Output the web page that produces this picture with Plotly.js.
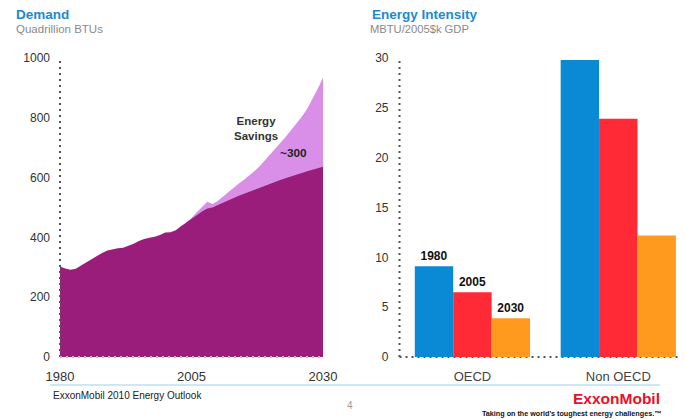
<!DOCTYPE html>
<html>
<head>
<meta charset="utf-8">
<script src="https://cdn.plot.ly/plotly-3.0.1.min.js"></script>
<style>html,body{margin:0;padding:0;background:#fff;}#chart{width:685px;height:419px;}</style>
</head>
<body>
<div id="chart"></div>
<script>
// ---- Demand (Quadrillion BTUs) ----
var demandYears = [1980,1981,1982,1983,1984,1985,1986,1987,1988,1989,1990,1991,1992,1993,1994,1995,1996,1997,1998,1999,2000,2001,2002,2003,2004,2005,2006,2007,2008,2009,2010,2011,2012,2013,2014,2015,2016,2017,2018,2019,2020,2021,2022,2023,2024,2025,2026,2027,2028,2029,2030];
var demandWithSavings = [303,296,292,295,306,317,327,337,348,356,361,364,365,371,379,388,395,399,402,408,416,417,424,437,450,462,474,487,497,500,508,516,525,532,539,546,553,560,567,574,581,587,593,599,605,611,616,621,626,631,636];
var noSavingsYears = [2004,2005,2006,2007,2008,2009,2010,2011,2012,2013,2014,2015,2016,2017,2018,2019,2020,2021,2022,2023,2024,2025,2026,2027,2028,2029,2030];
var demandNoSavings = [450,465,484,503,519,512,522,537,552,566,580,593,607,622,639,658,678,698,718,738,760,781,804,830,862,897,934];
var demandTicks = [1980,2005,2030];

// ---- Energy Intensity (MBTU/2005$k GDP) ----
var regions = ['OECD','Non OECD'];
var seriesNames = ['1980','2005','2030'];
var intensity1980 = [9.1, 29.8];
var intensity2005 = [6.5, 23.9];
var intensity2030 = [3.9, 12.2];
var barColors = ['#0a8ad4','#ff2a35','#ff9a1e'];

var W = 685, H = 419;
function px(x){return x/W;}
function py(y){return 1 - y/H;}

var FONT = 'Liberation Sans, Arial, Helvetica, sans-serif';

var traces = [
  {x: noSavingsYears, y: demandNoSavings, type:'scatter', mode:'lines', fill:'tozeroy',
   fillcolor:'#d98ee8', line:{width:0, color:'#d98ee8'}, xaxis:'x', yaxis:'y', hoverinfo:'skip'},
  {x: demandYears, y: demandWithSavings, type:'scatter', mode:'lines', fill:'tozeroy',
   fillcolor:'#9a1c7b', line:{width:0, color:'#9a1c7b'}, xaxis:'x', yaxis:'y', hoverinfo:'skip'}
];
var intens = [intensity1980, intensity2005, intensity2030];
for (var i=0;i<3;i++){
  traces.push({
    x: regions, y: intens[i], type:'bar', name: seriesNames[i],
    marker:{color: barColors[i]}, xaxis:'x2', yaxis:'y2',
    text: [seriesNames[i], ''], textposition:'outside', cliponaxis:false,
    textfont:{family:FONT, size:12, color:'#111', weight:'bold'}
  });
}

var dotLine = {color:'#555', width:2, dash:'2px,4px'};
var shapes = [
  {type:'line', xref:'x domain', yref:'y domain', x0:0, x1:0, y0:0, y1:1, line:dotLine, layer:'above'},
  {type:'line', xref:'x domain', yref:'y domain', x0:0, x1:1, y0:0, y1:0, line:{color:'#bbb', width:2, dash:'2px,4px'}, layer:'above'},
  {type:'line', xref:'x2 domain', yref:'y2 domain', x0:0, x1:0, y0:0, y1:1, line:dotLine, layer:'above'},
  {type:'line', xref:'x2 domain', yref:'y2 domain', x0:0, x1:1, y0:0, y1:0, line:dotLine, layer:'below'},
  {type:'line', xref:'paper', yref:'paper', x0:px(50), x1:px(660), y0:py(385), y1:py(385), line:{color:'#9fd0ea', width:1.2}}
];

function ann(text, x, y, size, color, xanchor, bold){
  return {text: bold ? '<b>'+text+'</b>' : text, xref:'paper', yref:'paper', x:px(x), y:py(y),
    xanchor: xanchor||'center', yanchor:'middle', showarrow:false,
    font:{family:FONT, size:size, color:color}};
}
var annotations = [
  ann('Demand', 14, 15, 13.5, '#1a8bd0', 'left', true),
  ann('Quadrillion BTUs', 14, 29, 11.5, '#8a8a8a', 'left', false),
  ann('Energy Intensity', 370, 15, 13.5, '#1a8bd0', 'left', true),
  ann('MBTU/2005$k GDP', 368, 29, 11.2, '#8a8a8a', 'left', false),
  ann('Energy<br>Savings', 256, 128.5, 11.5, '#333', 'center', true),
  ann('~300', 293.5, 153, 11.8, '#222', 'center', true),
  ann('ExxonMobil 2010 Energy Outlook', 51, 395, 10, '#222', 'left', false),
  ann('4', 350, 405, 10, '#999', 'center', false),
  ann('ExxonMobil', 616.5, 398, 15.5, '#e8102a', 'center', true),
  ann('Taking on the world\u2019s toughest energy challenges.\u2122', 571.5, 413, 7.2, '#111', 'center', true)
];

var layout = {
  width: W, height: H,
  margin:{l:0,r:0,t:0,b:0,pad:0},
  paper_bgcolor:'#fff', plot_bgcolor:'rgba(0,0,0,0)',
  showlegend:false,
  font:{family:FONT, color:'#333'},
  xaxis:{domain:[px(60), px(323)], range:[1980,2030], tickvals: demandTicks, ticktext: demandTicks.map(String),
    showgrid:false, zeroline:false, showline:false, ticks:'', ticklabelstandoff:10,
    tickfont:{family:FONT, size:13, color:'#333'}, anchor:'y', fixedrange:true},
  yaxis:{domain:[py(357), py(58)], range:[0,1000], tickvals:[0,200,400,600,800,1000],
    showgrid:false, zeroline:false, showline:false, ticks:'', ticklabelstandoff:9,
    tickfont:{family:FONT, size:12, color:'#333'}, anchor:'x', fixedrange:true},
  xaxis2:{domain:[px(399.5), px(681)], range:[-0.5,1.43], type:'category',
    showgrid:false, zeroline:false, showline:false, ticks:'', ticklabelstandoff:10,
    tickfont:{family:FONT, size:13, color:'#444'}, anchor:'y2', fixedrange:true},
  yaxis2:{domain:[py(357), py(58)], range:[0,30], dtick:5, tick0:0,
    showgrid:false, zeroline:false, showline:false, ticks:'', ticklabelstandoff:10,
    tickfont:{family:FONT, size:12, color:'#333'}, anchor:'x2', fixedrange:true},
  barmode:'group', bargap:0.21, bargroupgap:0,
  shapes: shapes,
  annotations: annotations
};

Plotly.newPlot('chart', traces, layout, {displayModeBar:false, staticPlot:true});
</script>
</body>
</html>
